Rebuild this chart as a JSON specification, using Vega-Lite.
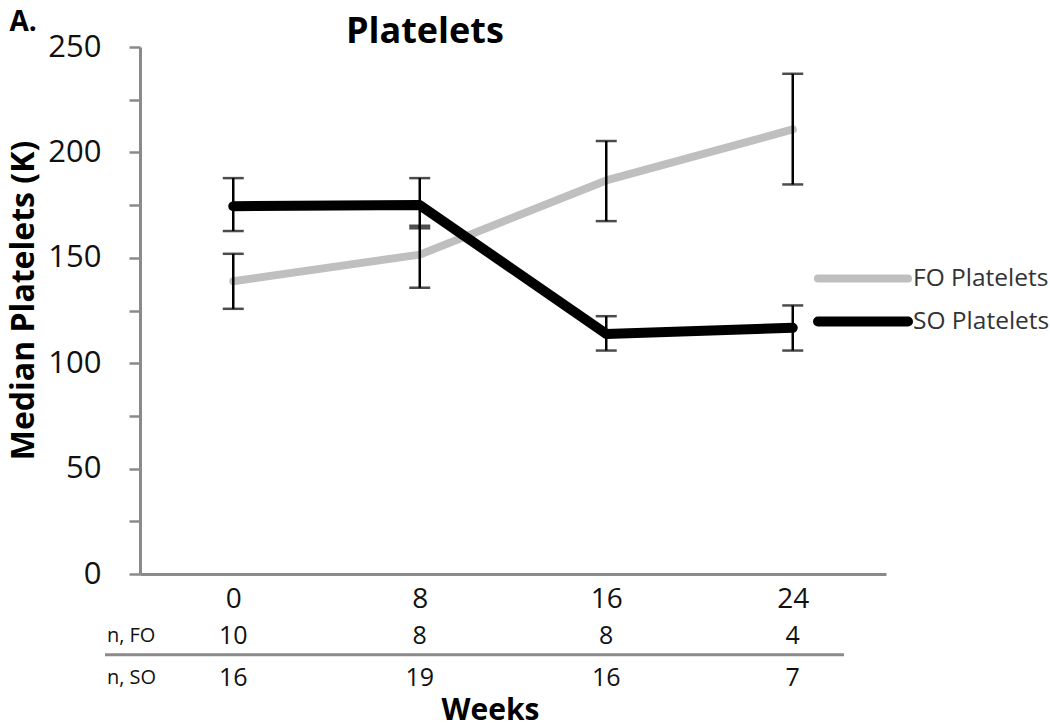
{
  "$schema": "https://vega.github.io/schema/vega-lite/v6.json",
  "width": 746,
  "height": 527,
  "autosize": {"type": "none"},
  "padding": {"left": 140, "top": 47, "right": 164, "bottom": 154},
  "background": "white",
  "config": {"font": "Open Sans", "view": {"stroke": null}},
  "datasets": {
    "series": [
      {"week": 0, "series": "FO Platelets", "value": 138.9, "low": 125.8, "high": 151.9},
      {"week": 8, "series": "FO Platelets", "value": 151.5, "low": 135.8, "high": 165.2},
      {"week": 16, "series": "FO Platelets", "value": 186.7, "low": 167.4, "high": 205.4},
      {"week": 24, "series": "FO Platelets", "value": 210.9, "low": 184.8, "high": 237.3},
      {"week": 0, "series": "SO Platelets", "value": 174.5, "low": 162.7, "high": 187.8},
      {"week": 8, "series": "SO Platelets", "value": 175.0, "low": 164.0, "high": 187.8},
      {"week": 16, "series": "SO Platelets", "value": 113.9, "low": 106.0, "high": 122.3},
      {"week": 24, "series": "SO Platelets", "value": 116.8, "low": 106.0, "high": 127.4}
    ],
    "counts": [
      {"week": 0, "FO": 10, "SO": 16},
      {"week": 8, "FO": 8, "SO": 19},
      {"week": 16, "FO": 8, "SO": 16},
      {"week": 24, "FO": 4, "SO": 7}
    ],
    "labels": [
      {"label": "n, FO", "row": "FO"},
      {"label": "n, SO", "row": "SO"},
      {"label": "Platelets", "row": "title"},
      {"label": "A.", "row": "panel"}
    ]
  },
  "layer": [
    {
      "data": {"name": "series"},
      "mark": {"type": "line", "strokeCap": "round", "strokeJoin": "round"},
      "encoding": {
        "x": {
          "field": "week",
          "type": "quantitative",
          "scale": {"domain": [-4, 28], "nice": false, "zero": false},
          "axis": {
            "values": [0, 8, 16, 24],
            "ticks": false,
            "grid": false,
            "labelFlush": false,
            "labelFontSize": 28,
            "labelFont": "Open Sans",
            "labelColor": "#111111",
            "labelPadding": 11,
            "domainColor": "#8a8a8a",
            "domainWidth": 3,
            "title": "Weeks",
            "titleFont": "Open Sans",
            "titleFontSize": 30,
            "titleFontWeight": "bold",
            "titleColor": "#000000",
            "titlePadding": 82,
            "titleX": 350,
            "titleAlign": "center"
          }
        },
        "y": {
          "field": "value",
          "type": "quantitative",
          "scale": {"domain": [0, 250], "nice": false},
          "axis": {
            "title": "Median Platelets (K)",
            "values": [0, 25, 50, 75, 100, 125, 150, 175, 200, 225, 250],
            "labelExpr": "datum.value % 50 == 0 ? datum.label : ''",
            "grid": false,
            "domainColor": "#8a8a8a",
            "domainWidth": 3,
            "tickColor": "#8a8a8a",
            "tickWidth": 2.5,
            "tickSize": 11,
            "labelPadding": 28,
            "labelFont": "Open Sans",
            "labelFontSize": 31,
            "labelColor": "#111111",
            "titleFont": "Open Sans",
            "titleFontSize": 32,
            "titleFontWeight": "bold",
            "titleColor": "#000000",
            "titlePadding": 7,
            "titleY": 253
          }
        },
        "color": {
          "field": "series",
          "type": "nominal",
          "scale": {"domain": ["FO Platelets", "SO Platelets"], "range": ["#bfbfbf", "#000000"]},
          "legend": {
            "orient": "none",
            "legendX": 673,
            "legendY": 210,
            "title": null,
            "symbolType": "stroke",
            "symbolSize": 8100,
            "symbolStrokeWidth": 9,
            "clipHeight": 43,
            "labelFont": "Open Sans",
            "labelFontSize": 24.5,
            "labelColor": "#333333",
            "labelOffset": 0,
            "padding": 0,
            "rowPadding": 0,
            "encode": {"symbols": {"update": {"strokeCap": {"value": "round"}}}}
          }
        },
        "strokeWidth": {
          "field": "series",
          "type": "nominal",
          "scale": {"domain": ["FO Platelets", "SO Platelets"], "range": [8, 10]},
          "legend": null
        }
      }
    },
    {
      "data": {"name": "series"},
      "mark": {"type": "rule", "color": "#000000", "strokeWidth": 2.5},
      "encoding": {
        "x": {"field": "week", "type": "quantitative"},
        "y": {"field": "low", "type": "quantitative"},
        "y2": {"field": "high"}
      }
    },
    {
      "data": {"name": "series"},
      "mark": {"type": "tick", "orient": "horizontal", "color": "#000000", "size": 21, "thickness": 2.5},
      "encoding": {
        "x": {"field": "week", "type": "quantitative"},
        "y": {"field": "low", "type": "quantitative"}
      }
    },
    {
      "data": {"name": "series"},
      "mark": {"type": "tick", "orient": "horizontal", "color": "#000000", "size": 21, "thickness": 2.5},
      "encoding": {
        "x": {"field": "week", "type": "quantitative"},
        "y": {"field": "high", "type": "quantitative"}
      }
    },
    {
      "data": {"name": "counts"},
      "mark": {"type": "text", "font": "Open Sans", "fontSize": 25, "color": "#111111", "baseline": "middle", "align": "center"},
      "encoding": {
        "x": {"field": "week", "type": "quantitative"},
        "y": {"datum": -29.5},
        "text": {"field": "FO"}
      }
    },
    {
      "data": {"name": "counts"},
      "mark": {"type": "text", "font": "Open Sans", "fontSize": 25, "color": "#111111", "baseline": "middle", "align": "center"},
      "encoding": {
        "x": {"field": "week", "type": "quantitative"},
        "y": {"datum": -49.2},
        "text": {"field": "SO"}
      }
    },
    {
      "data": {"name": "labels"},
      "transform": [{"filter": "datum.row == 'FO'"}],
      "mark": {"type": "text", "font": "Open Sans", "fontSize": 20, "color": "#111111", "baseline": "middle", "align": "left"},
      "encoding": {
        "x": {"datum": -5.42},
        "y": {"datum": -29.5},
        "text": {"field": "label"}
      }
    },
    {
      "data": {"name": "labels"},
      "transform": [{"filter": "datum.row == 'SO'"}],
      "mark": {"type": "text", "font": "Open Sans", "fontSize": 20, "color": "#111111", "baseline": "middle", "align": "left"},
      "encoding": {
        "x": {"datum": -5.42},
        "y": {"datum": -49.2},
        "text": {"field": "label"}
      }
    },
    {
      "data": {"name": "labels"},
      "transform": [{"filter": "datum.row == 'FO'"}],
      "mark": {"type": "rule", "color": "#8a8a8a", "strokeWidth": 3},
      "encoding": {
        "x": {"datum": -5.5},
        "x2": {"datum": 26.2},
        "y": {"datum": -38.3}
      }
    },
    {
      "data": {"name": "labels"},
      "transform": [{"filter": "datum.row == 'title'"}],
      "mark": {"type": "text", "font": "Open Sans", "fontSize": 36, "fontWeight": "bold", "color": "#000000", "align": "center", "baseline": "alphabetic"},
      "encoding": {
        "x": {"datum": 8.22},
        "y": {"datum": 251.9},
        "text": {"field": "label"}
      }
    },
    {
      "data": {"name": "labels"},
      "transform": [{"filter": "datum.row == 'panel'"}],
      "mark": {"type": "text", "font": "Open Sans", "fontSize": 28, "fontWeight": "bold", "color": "#000000", "align": "left", "baseline": "alphabetic"},
      "encoding": {
        "x": {"datum": -9.6},
        "y": {"datum": 257.7},
        "text": {"field": "label"}
      }
    }
  ]
}
